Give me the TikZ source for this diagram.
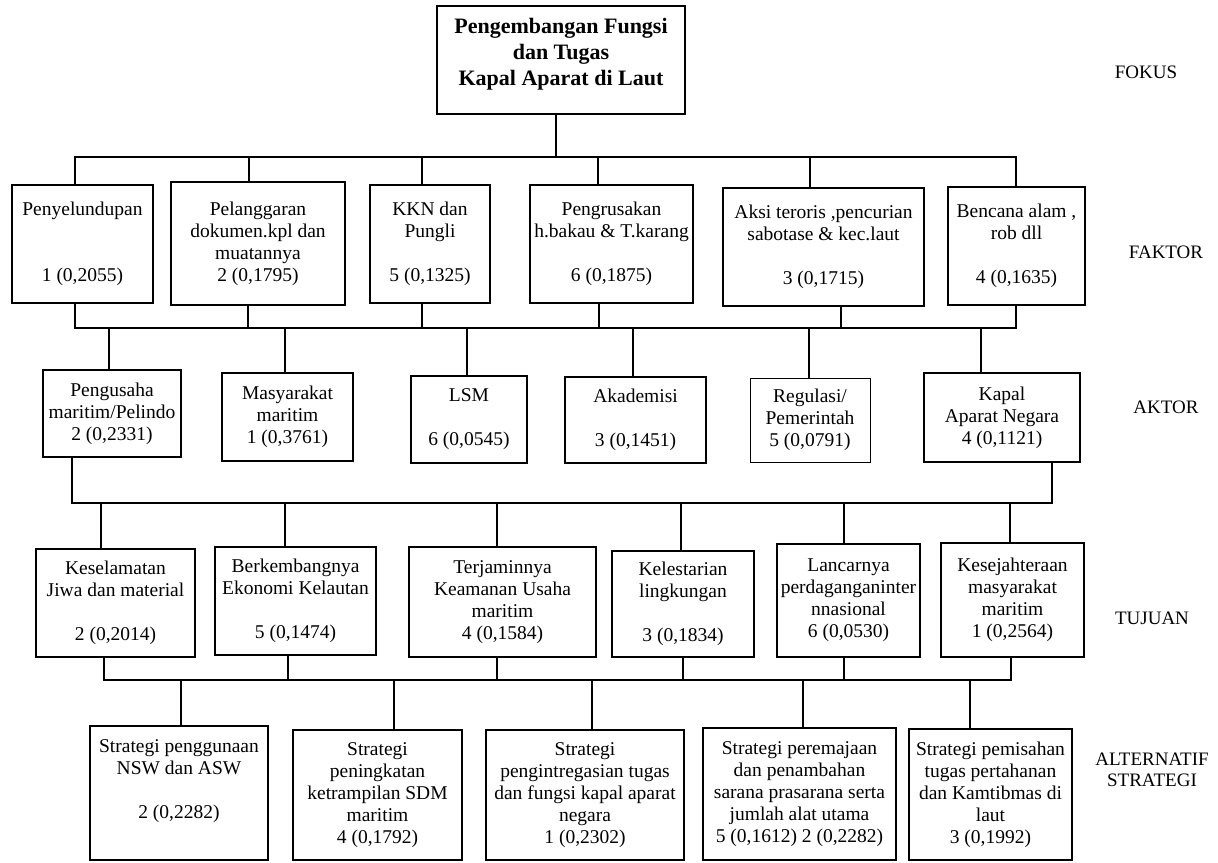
\documentclass[tikz,border=0pt]{standalone}
\usepackage{fontspec}
\setmainfont{Liberation Serif}
\usepackage{tikz}
\tikzset{
  boxnode/.style={draw=black,line width=1.4pt,align=center,inner sep=0pt,font=\fontsize{19.5}{22}\selectfont},
  topnode/.style={boxnode,font=\bfseries\fontsize{22}{26}\selectfont,text depth=16pt},
  lvlabel/.style={align=center,font=\fontsize{19}{21}\selectfont},
  wire/.style={line width=1.8pt,black,line cap=rect},
}

\begin{document}
\begin{tikzpicture}[x=1pt,y=-1pt]
  \useasboundingbox (0,0) rectangle (1218,862);
  % focus
  \node[topnode,minimum width=248,minimum height=108] (nFokus) at (561,60) {Pengembangan Fungsi\\dan Tugas\\Kapal Aparat di Laut};
  % factors
  \node[boxnode,minimum width=141,minimum height=118] (nF1) at (82.5,244) {Penyelundupan\\[44pt]1 (0,2055)};
  \node[boxnode,minimum width=174,minimum height=123] (nF2) at (258,243.5) {Pelanggaran\\dokumen.kpl dan\\muatannya\\2 (0,1795)};
  \node[boxnode,minimum width=120,minimum height=118] (nF3) at (430,244) {KKN dan\\Pungli\\[22pt]5 (0,1325)};
  \node[boxnode,minimum width=163,minimum height=118] (nF4) at (611.5,244) {Pengrusakan\\h.bakau \& T.karang\\[22pt]6 (0,1875)};
  \node[boxnode,minimum width=201,minimum height=118] (nF5) at (823.5,247) {Aksi teroris ,pencurian\\sabotase \& kec.laut\\[22pt]3 (0,1715)};
  \node[boxnode,minimum width=137,minimum height=118] (nF6) at (1016.5,246) {Bencana alam ,\\rob dll\\[22pt]4 (0,1635)};
  % actors
  \node[boxnode,minimum width=138,minimum height=87] (nA1) at (112,413.5) {Pengusaha\\maritim/Pelindo\\2 (0,2331)};
  \node[boxnode,minimum width=131,minimum height=88] (nA2) at (287.5,417) {Masyarakat\\maritim\\1 (0,3761)};
  \node[boxnode,minimum width=116,minimum height=87] (nA3) at (469,419.5) {LSM\\[22pt]6 (0,0545)};
  \node[boxnode,minimum width=141,minimum height=86] (nA4) at (635.5,420) {Akademisi\\[22pt]3 (0,1451)};
  \node[boxnode,line width=0.8pt,minimum width=120,minimum height=84] (nA5) at (810,420) {Regulasi/\\Pemerintah\\5 (0,0791)};
  \node[boxnode,minimum width=156,minimum height=89] (nA6) at (1002,417.5) {Kapal\\Aparat Negara\\4 (0,1121)};
  % goals
  \node[boxnode,minimum width=159,minimum height=108] (nT1) at (115.5,603) {Keselamatan\\Jiwa dan material\\[22pt]2 (0,2014)};
  \node[boxnode,minimum width=161,minimum height=108] (nT2) at (295.5,601) {Berkembangnya\\Ekonomi Kelautan\\[22pt]5 (0,1474)};
  \node[boxnode,minimum width=187,minimum height=110] (nT3) at (502.5,602) {Terjaminnya\\Keamanan Usaha\\maritim\\4 (0,1584)};
  \node[boxnode,minimum width=142,minimum height=106] (nT4) at (683,604) {Kelestarian\\lingkungan\\[22pt]3 (0,1834)};
  \node[boxnode,minimum width=143,minimum height=113] (nT5) at (848.5,600.5) {Lancarnya\\perdaganganinter\\nnasional\\6 (0,0530)};
  \node[boxnode,minimum width=143,minimum height=114] (nT6) at (1012.5,600) {Kesejahteraan\\masyarakat\\maritim\\1 (0,2564)};
  % strategies
  \node[boxnode,minimum width=178,minimum height=134] (nS1) at (179,793) {Strategi penggunaan\\NSW dan ASW\\[22pt]2 (0,2282)\\ \strut};
  \node[boxnode,minimum width=169,minimum height=130] (nS2) at (377.5,795) {Strategi\\peningkatan\\ketrampilan SDM\\maritim\\4 (0,1792)};
  \node[boxnode,minimum width=198,minimum height=130] (nS3) at (585,795) {Strategi\\pengintregasian tugas\\dan fungsi kapal aparat\\negara\\1 (0,2302)};
  \node[boxnode,minimum width=193,minimum height=132] (nS4) at (799.5,794) {Strategi peremajaan\\dan penambahan\\sarana prasarana serta\\jumlah alat utama\\5 (0,1612) 2 (0,2282)};
  \node[boxnode,minimum width=163,minimum height=131] (nS5) at (990.5,794.5) {Strategi pemisahan\\tugas pertahanan\\dan Kamtibmas di\\laut\\3 (0,1992)};
  % level labels
  \node[lvlabel] (lFokus) at (1146,72) {FOKUS};
  \node[lvlabel] (lFaktor) at (1166,252) {FAKTOR};
  \node[lvlabel] (lAktor) at (1166,407) {AKTOR};
  \node[lvlabel] (lTujuan) at (1152,618) {TUJUAN};
  \node[lvlabel] (lStrategi) at (1152,770) {ALTERNATIF\\STRATEGI};
  % focus -> factors
  \coordinate (busA) at (0,157);
  \draw[wire] (556,0 |- nFokus.south) -- (556,0 |- busA);
  \draw[wire] (75,0 |- busA) -- (1016,0 |- busA);
  \draw[wire] (75,0 |- busA) -- (75,0 |- nF1.north);
  \draw[wire] (249,0 |- busA) -- (249,0 |- nF2.north);
  \draw[wire] (422,0 |- busA) -- (422,0 |- nF3.north);
  \draw[wire] (598,0 |- busA) -- (598,0 |- nF4.north);
  \draw[wire] (810,0 |- busA) -- (810,0 |- nF5.north);
  \draw[wire] (1016,0 |- busA) -- (1016,0 |- nF6.north);
  % factors -> actors
  \coordinate (busB) at (0,328);
  \draw[wire] (75,0 |- busB) -- (1016,0 |- busB);
  \draw[wire] (75,0 |- nF1.south) -- (75,0 |- busB);
  \draw[wire] (248,0 |- nF2.south) -- (248,0 |- busB);
  \draw[wire] (422,0 |- nF3.south) -- (422,0 |- busB);
  \draw[wire] (599,0 |- nF4.south) -- (599,0 |- busB);
  \draw[wire] (841,0 |- nF5.south) -- (841,0 |- busB);
  \draw[wire] (1016,0 |- nF6.south) -- (1016,0 |- busB);
  \draw[wire] (109,0 |- busB) -- (109,0 |- nA1.north);
  \draw[wire] (285,0 |- busB) -- (285,0 |- nA2.north);
  \draw[wire] (467,0 |- busB) -- (467,0 |- nA3.north);
  \draw[wire] (633,0 |- busB) -- (633,0 |- nA4.north);
  \draw[wire] (809,0 |- busB) -- (809,0 |- nA5.north);
  \draw[wire] (981,0 |- busB) -- (981,0 |- nA6.north);
  % actors -> goals
  \coordinate (busC) at (0,503);
  \draw[wire] (72,0 |- busC) -- (1052,0 |- busC);
  \draw[wire] (72,0 |- nA1.south) -- (72,0 |- busC);
  \draw[wire] (1052,0 |- nA6.south) -- (1052,0 |- busC);
  \draw[wire] (101,0 |- busC) -- (101,0 |- nT1.north);
  \draw[wire] (285,0 |- busC) -- (285,0 |- nT2.north);
  \draw[wire] (497,0 |- busC) -- (497,0 |- nT3.north);
  \draw[wire] (681,0 |- busC) -- (681,0 |- nT4.north);
  \draw[wire] (844,0 |- busC) -- (844,0 |- nT5.north);
  \draw[wire] (1010,0 |- busC) -- (1010,0 |- nT6.north);
  % goals -> strategies
  \coordinate (busD) at (0,680);
  \draw[wire] (104,0 |- busD) -- (1011,0 |- busD);
  \draw[wire] (104,0 |- nT1.south) -- (104,0 |- busD);
  \draw[wire] (288,0 |- nT2.south) -- (288,0 |- busD);
  \draw[wire] (497,0 |- nT3.south) -- (497,0 |- busD);
  \draw[wire] (683,0 |- nT4.south) -- (683,0 |- busD);
  \draw[wire] (844,0 |- nT5.south) -- (844,0 |- busD);
  \draw[wire] (1011,0 |- nT6.south) -- (1011,0 |- busD);
  \draw[wire] (181,0 |- busD) -- (181,0 |- nS1.north);
  \draw[wire] (394,0 |- busD) -- (394,0 |- nS2.north);
  \draw[wire] (592,0 |- busD) -- (592,0 |- nS3.north);
  \draw[wire] (803,0 |- busD) -- (803,0 |- nS4.north);
  \draw[wire] (970,0 |- busD) -- (970,0 |- nS5.north);
\end{tikzpicture}
\end{document}
